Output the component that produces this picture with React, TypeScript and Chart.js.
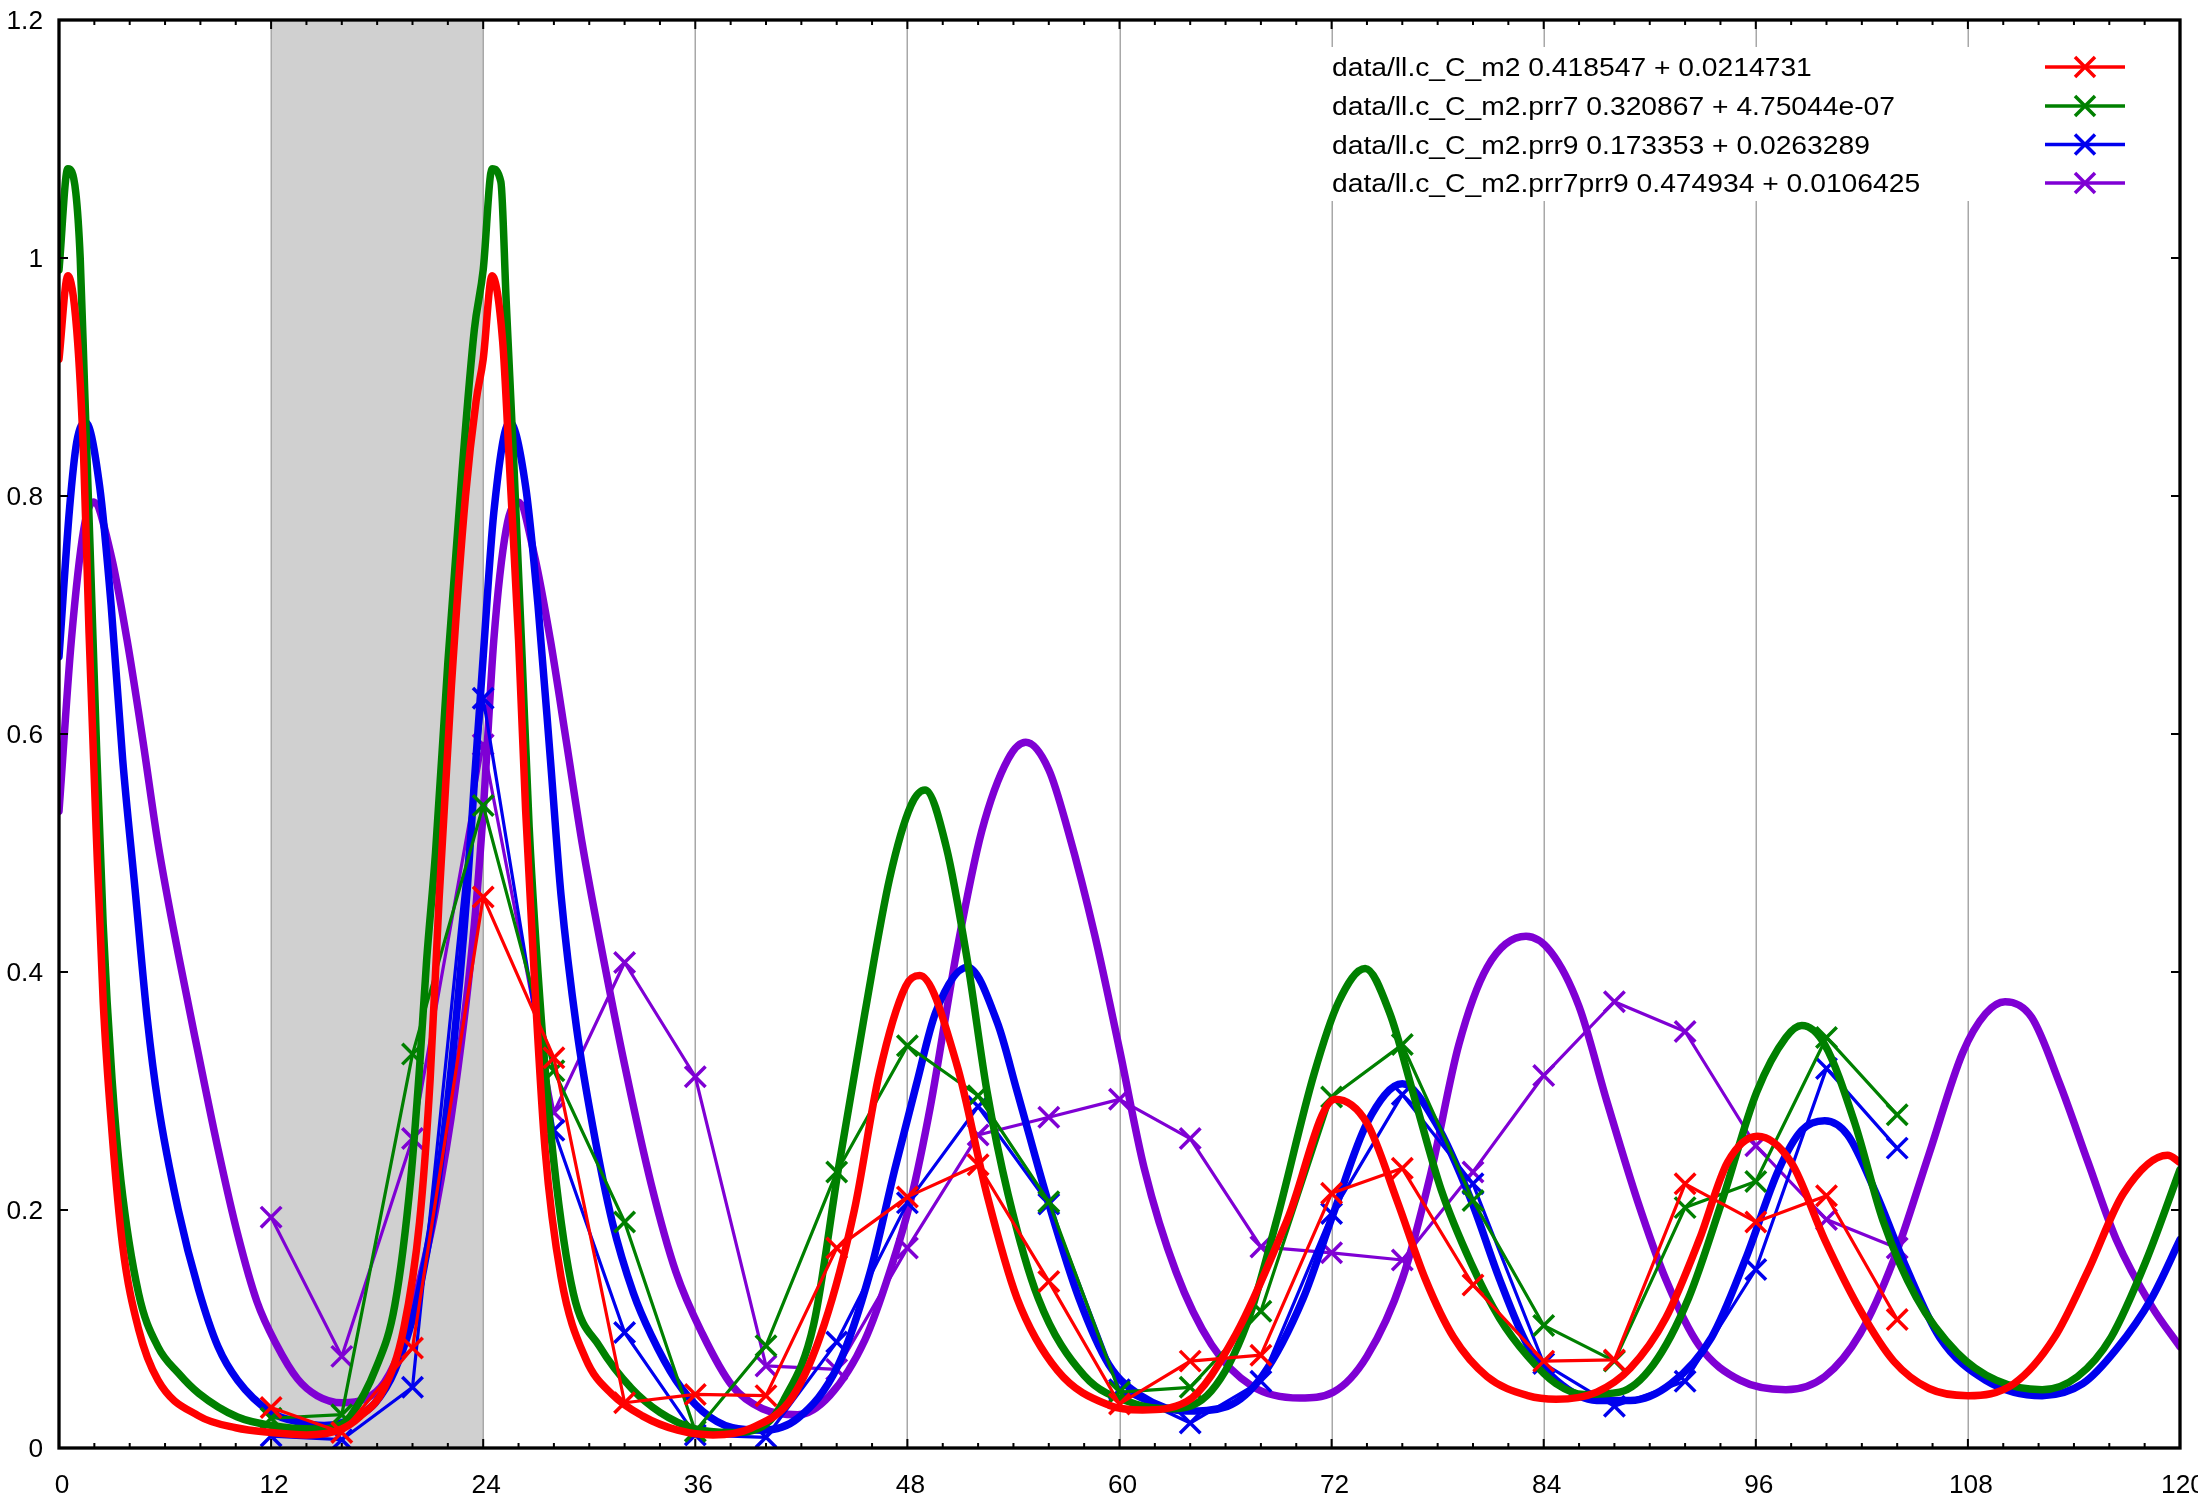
import React, { useEffect, useRef } from 'react';
import { Chart, registerables } from 'chart.js';

Chart.register(...registerables);

// ---------------- data ----------------
const sampleHours = [12, 16, 20, 24, 28, 32, 36, 40, 44, 48, 52, 56, 60, 64, 68, 72, 76, 80, 84, 88, 92, 96, 100, 104];
const m2Data = [0.034, 0.013, 0.084, 0.463, 0.328, 0.038, 0.045, 0.044, 0.168, 0.211, 0.238, 0.140, 0.037, 0.073, 0.078, 0.214, 0.235, 0.137, 0.073, 0.074, 0.222, 0.190, 0.212, 0.108];
const prr7Data = [0.025, 0.028, 0.331, 0.540, 0.317, 0.190, 0.014, 0.086, 0.232, 0.338, 0.296, 0.207, 0.047, 0.051, 0.115, 0.295, 0.339, 0.208, 0.103, 0.073, 0.202, 0.224, 0.345, 0.280];
const prr9Data = [0.010, 0.007, 0.051, 0.630, 0.267, 0.097, 0.011, 0.009, 0.089, 0.206, 0.287, 0.205, 0.049, 0.021, 0.056, 0.197, 0.297, 0.222, 0.071, 0.035, 0.056, 0.150, 0.319, 0.252];
const prr7prr9Data = [0.194, 0.077, 0.260, 0.591, 0.282, 0.408, 0.312, 0.069, 0.066, 0.168, 0.263, 0.278, 0.293, 0.260, 0.169, 0.164, 0.158, 0.232, 0.313, 0.375, 0.350, 0.254, 0.192, 0.168];

const m2FitHours = [0, 0.5, 1.0, 1.4, 1.7, 2.1, 2.5, 3.0, 3.6, 4.5, 5.6, 7.9, 10, 12, 14, 16, 17, 18.4, 19.5, 20.4, 21, 21.5, 22.2, 23, 23.6, 24, 24.5, 25.1, 25.5, 26, 26.4, 26.9, 27.5, 28.4, 29.8, 31.3, 33, 35, 37, 39.2, 41.5, 43.3, 45, 46.4, 47.9, 48.7, 50.8, 52.5, 54.2, 56.5, 59.4, 61.3, 63.8, 66.6, 69.5, 72.2, 74, 75.7, 77.3, 78.9, 80.8, 83.1, 84.7, 87, 88.9, 90.9, 92.8, 94.4, 96.1, 98, 99.9, 101.9, 103.8, 105.8, 108, 110.6, 112.9, 114.8, 116.8, 119.3, 120];
const m2FitValues = [0.915, 0.985, 0.94, 0.83, 0.685, 0.52, 0.375, 0.265, 0.17, 0.1, 0.057, 0.027, 0.017, 0.013, 0.011, 0.016, 0.026, 0.05, 0.1, 0.19, 0.31, 0.46, 0.64, 0.8, 0.88, 0.915, 0.985, 0.93, 0.822, 0.679, 0.536, 0.394, 0.251, 0.144, 0.075, 0.045, 0.027, 0.015, 0.011, 0.017, 0.043, 0.104, 0.2, 0.314, 0.388, 0.397, 0.322, 0.213, 0.126, 0.065, 0.036, 0.032, 0.039, 0.096, 0.192, 0.293, 0.273, 0.208, 0.142, 0.093, 0.06, 0.044, 0.041, 0.047, 0.067, 0.109, 0.175, 0.24, 0.262, 0.24, 0.175, 0.116, 0.073, 0.05, 0.044, 0.054, 0.093, 0.149, 0.214, 0.246, 0.24];

const prr7FitHours = [0, 0.5, 0.95, 1.2, 1.45, 1.75, 2.1, 2.5, 3.0, 3.5, 4.5, 5.6, 6.75, 7.9, 10.1, 12, 14.5, 16, 16.5, 17.9, 19, 19.9, 20.4, 20.8, 21.3, 22, 22.8, 23.5, 24, 24.5, 25, 25.3, 25.75, 26.2, 26.6, 27.3, 28, 29.1, 30.6, 32.4, 34, 36, 38, 40, 41, 42.7, 44.1, 45.6, 47, 48.2, 49, 50.2, 51.4, 52.5, 53.7, 55.4, 58, 60.9, 63, 65.2, 67.2, 68.9, 71, 72.4, 73.9, 75.3, 76.6, 78.2, 79.9, 81.5, 83.1, 84.7, 86.3, 88.3, 90.2, 92.2, 94.1, 96.05, 97.7, 98.6, 99.9, 101.6, 103.2, 105.1, 107.4, 109.6, 112.2, 114.2, 116.1, 118.1, 120];
const prr7FitValues = [0.99, 1.075, 1.055, 1.0, 0.89, 0.76, 0.6, 0.44, 0.31, 0.225, 0.13, 0.085, 0.063, 0.046, 0.026, 0.019, 0.016, 0.02, 0.027, 0.066, 0.12, 0.226, 0.32, 0.41, 0.5, 0.66, 0.82, 0.94, 0.99, 1.075, 1.064, 0.964, 0.822, 0.665, 0.522, 0.358, 0.24, 0.13, 0.085, 0.05, 0.03, 0.016, 0.013, 0.02, 0.04, 0.104, 0.235, 0.366, 0.479, 0.54, 0.553, 0.505, 0.409, 0.3, 0.213, 0.126, 0.061, 0.037, 0.033, 0.048, 0.104, 0.192, 0.314, 0.375, 0.403, 0.365, 0.299, 0.217, 0.155, 0.109, 0.077, 0.054, 0.045, 0.047, 0.07, 0.126, 0.208, 0.299, 0.345, 0.355, 0.339, 0.273, 0.191, 0.126, 0.08, 0.057, 0.049, 0.06, 0.093, 0.158, 0.234];

const prr9FitHours = [0, 0.6, 1.0, 1.5, 2.3, 2.95, 3.6, 4.3, 5.0, 5.6, 6.75, 7.9, 9.0, 10.1, 12, 13.5, 15, 16.8, 17.9, 19, 20.2, 21.3, 22.2, 23.1, 23.5, 24, 24.6, 25.5, 26.4, 27.1, 27.8, 28.4, 29.3, 30.2, 31.3, 32.5, 33.5, 34.9, 36.4, 38.1, 39.8, 41.8, 44.1, 45.9, 47.3, 48.5, 49.6, 51.4, 53.1, 54.2, 56, 57.7, 59.4, 61.2, 63.8, 66.1, 68.1, 70.4, 72.1, 74, 76, 77.9, 79.9, 81.5, 83.1, 84.7, 87, 88.9, 91.2, 93.5, 95.4, 97.3, 98.6, 99.9, 101.2, 102.8, 104.5, 106.4, 109, 112.2, 114.5, 116.4, 118.4, 120];
const prr9FitValues = [0.665, 0.79, 0.845, 0.862, 0.808, 0.708, 0.579, 0.47, 0.36, 0.29, 0.2, 0.133, 0.085, 0.057, 0.03, 0.022, 0.019, 0.026, 0.038, 0.065, 0.12, 0.21, 0.32, 0.47, 0.56, 0.665, 0.786, 0.862, 0.808, 0.708, 0.579, 0.465, 0.351, 0.27, 0.19, 0.13, 0.095, 0.057, 0.031, 0.017, 0.015, 0.025, 0.07, 0.148, 0.235, 0.305, 0.366, 0.404, 0.357, 0.3, 0.205, 0.126, 0.07, 0.044, 0.031, 0.035, 0.061, 0.126, 0.197, 0.273, 0.306, 0.273, 0.208, 0.142, 0.086, 0.057, 0.04, 0.04, 0.054, 0.093, 0.158, 0.234, 0.267, 0.275, 0.263, 0.214, 0.152, 0.093, 0.057, 0.044, 0.054, 0.083, 0.126, 0.175];

const prr7prr9FitHours = [0, 0.7, 1.4, 1.95, 2.95, 3.85, 4.75, 5.6, 6.75, 7.9, 9.0, 10.1, 11.2, 12.3, 13.5, 14.6, 16, 17.3, 18.4, 19.5, 20.4, 21.3, 22.4, 23.5, 24, 24.6, 25.3, 26, 26.9, 27.8, 28.7, 29.6, 30.6, 32, 33.5, 34.9, 36.4, 38.1, 39.8, 41.8, 43.6, 45.6, 47, 48.2, 49.3, 50.8, 52.2, 53.7, 54.7, 56, 57.1, 58.6, 60, 61.4, 63.2, 65.2, 67.5, 70.2, 72.1, 74, 76, 77.6, 79.2, 80.8, 83, 84.4, 86, 87.6, 89.3, 90.9, 92.8, 95.1, 97.7, 99.9, 101.9, 103.8, 105.8, 107.7, 109, 110.1, 111.6, 113.2, 114.8, 116.4, 118.4, 120];
const prr7prr9FitValues = [0.535, 0.679, 0.772, 0.795, 0.75, 0.679, 0.594, 0.508, 0.415, 0.33, 0.251, 0.18, 0.123, 0.087, 0.058, 0.044, 0.038, 0.041, 0.055, 0.09, 0.14, 0.2, 0.3, 0.44, 0.535, 0.679, 0.772, 0.795, 0.75, 0.679, 0.594, 0.508, 0.427, 0.322, 0.222, 0.148, 0.096, 0.052, 0.033, 0.028, 0.044, 0.091, 0.148, 0.209, 0.287, 0.418, 0.518, 0.579, 0.593, 0.57, 0.518, 0.431, 0.335, 0.235, 0.148, 0.087, 0.052, 0.042, 0.047, 0.077, 0.142, 0.23, 0.339, 0.404, 0.43, 0.417, 0.371, 0.29, 0.208, 0.142, 0.086, 0.057, 0.049, 0.06, 0.096, 0.158, 0.247, 0.332, 0.365, 0.375, 0.362, 0.306, 0.24, 0.175, 0.119, 0.085];

const seriesLabels = [
  'data/ll.c_C_m2 0.418547 + 0.0214731',
  'data/ll.c_C_m2.prr7 0.320867 + 4.75044e-07',
  'data/ll.c_C_m2.prr9 0.173353 + 0.0263289',
  'data/ll.c_C_m2.prr7prr9 0.474934 + 0.0106425',
];
const seriesColors = ['#ff0000', '#008000', '#0000ee', '#7f00d4'];

const xTickValues = [0, 12, 24, 36, 48, 60, 72, 84, 96, 108, 120];
const yTickValues = [0, 0.2, 0.4, 0.6, 0.8, 1.0, 1.2];
const yTickLabels = ['0', '0.2', '0.4', '0.6', '0.8', '1', '1.2'];
const gridHours = [12, 24, 36, 48, 60, 72, 84, 96, 108];
const shadedBand = [12, 24];
const minorStep = 2;

// ---------------- helpers ----------------
const toPoints = (xs: number[], ys: number[]) => xs.map((x, i) => ({ x, y: ys[i] }));

const FONT = '"Liberation Sans", Arial, Helvetica, sans-serif';

function drawStretched(ctx: CanvasRenderingContext2D, text: string, x: number, y: number, align: CanvasTextAlign, sx: number) {
  ctx.save();
  ctx.translate(x, y);
  ctx.scale(sx, 1);
  ctx.textAlign = align;
  ctx.textBaseline = 'alphabetic';
  ctx.fillText(text, 0, 0);
  ctx.restore();
}

const gnuplotDecor = {
  id: 'gnuplotDecor',
  beforeDatasetsDraw(chart: any) {
    const { ctx, chartArea: a, scales } = chart;
    const xs = scales.x;
    ctx.save();
    const b0 = xs.getPixelForValue(shadedBand[0]);
    const b1 = xs.getPixelForValue(shadedBand[1]);
    ctx.fillStyle = '#d0d0d0';
    ctx.fillRect(b0, a.top, b1 - b0, a.bottom - a.top);
    ctx.strokeStyle = '#a8a8a8';
    ctx.lineWidth = 1.5;
    for (const h of gridHours) {
      const px = Math.round(xs.getPixelForValue(h)) + 0.25;
      ctx.beginPath();
      ctx.moveTo(px, a.top);
      ctx.lineTo(px, a.bottom);
      ctx.stroke();
    }
    // opaque key background
    ctx.fillStyle = '#ffffff';
    ctx.fillRect(1318, 47, 830, 154);
    ctx.restore();
  },
  afterDatasetsDraw(chart: any) {
    const { ctx, chartArea: a, scales } = chart;
    const xs = scales.x;
    const ys = scales.y;
    ctx.save();
    ctx.strokeStyle = '#000';
    ctx.lineWidth = 2;
    ctx.lineCap = 'butt';
    // x ticks (top & bottom, inward)
    for (let h = xs.min; h <= xs.max; h += minorStep) {
      const px = xs.getPixelForValue(h);
      const len = h % 12 === 0 ? 9 : 5;
      ctx.beginPath();
      ctx.moveTo(px, a.bottom);
      ctx.lineTo(px, a.bottom - len);
      ctx.moveTo(px, a.top);
      ctx.lineTo(px, a.top + len);
      ctx.stroke();
    }
    // y ticks (left & right, inward)
    for (const v of yTickValues) {
      const py = ys.getPixelForValue(v);
      ctx.beginPath();
      ctx.moveTo(a.left, py);
      ctx.lineTo(a.left + 9, py);
      ctx.moveTo(a.right, py);
      ctx.lineTo(a.right - 9, py);
      ctx.stroke();
    }
    // border
    ctx.lineWidth = 3.3;
    ctx.strokeRect(a.left, a.top, a.right - a.left, a.bottom - a.top);

    // tick labels
    ctx.fillStyle = '#000';
    ctx.font = `25px ${FONT}`;
    for (const v of xTickValues) {
      const px = xs.getPixelForValue(v);
      drawStretched(ctx, String(v), px + 3, a.bottom + 45, 'center', 1.05);
    }
    yTickValues.forEach((v, i) => {
      const py = ys.getPixelForValue(v);
      drawStretched(ctx, yTickLabels[i], a.left - 16, py + 9, 'right', 1.05);
    });

    // key
    const rowY = [67, 106, 144.5, 183];
    seriesLabels.forEach((label, i) => {
      const y = rowY[i];
      ctx.fillStyle = '#000';
      ctx.font = `25px ${FONT}`;
      drawStretched(ctx, label, 1332, y + 9, 'left', 1.13);
      ctx.strokeStyle = seriesColors[i];
      ctx.lineWidth = 3.3;
      ctx.beginPath();
      ctx.moveTo(2045, y);
      ctx.lineTo(2125, y);
      ctx.stroke();
      const cx = 2085;
      const r = 10;
      ctx.lineWidth = 3.5;
      ctx.beginPath();
      ctx.moveTo(cx - r, y - r);
      ctx.lineTo(cx + r, y + r);
      ctx.moveTo(cx - r, y + r);
      ctx.lineTo(cx + r, y - r);
      ctx.stroke();
    });
    ctx.restore();
  },
};

function fitDataset(xs: number[], ys: number[], color: string) {
  return {
    data: toPoints(xs, ys),
    borderColor: color,
    backgroundColor: color,
    borderWidth: 7.5,
    pointRadius: 0,
    pointHoverRadius: 0,
    cubicInterpolationMode: 'monotone' as const,
    borderJoinStyle: 'round' as const,
    borderCapStyle: 'round' as const,
    fill: false,
  };
}

function sampleDataset(ys: number[], color: string) {
  return {
    data: toPoints(sampleHours, ys),
    borderColor: color,
    backgroundColor: color,
    borderWidth: 3.2,
    pointStyle: 'crossRot' as const,
    pointRadius: 14.5,
    pointHoverRadius: 14.5,
    pointBorderWidth: 3.5,
    pointBorderColor: color,
    tension: 0,
    borderJoinStyle: 'round' as const,
    fill: false,
  };
}

export default function App() {
  const canvasRef = useRef<HTMLCanvasElement | null>(null);

  useEffect(() => {
    document.body.style.margin = '0';
    document.body.style.overflow = 'hidden';
    const canvas = canvasRef.current;
    if (!canvas) return;
    const chart = new Chart(canvas, {
      type: 'line',
      data: {
        datasets: [
          fitDataset(m2FitHours, m2FitValues, seriesColors[0]),
          sampleDataset(m2Data, seriesColors[0]),
          fitDataset(prr7FitHours, prr7FitValues, seriesColors[1]),
          sampleDataset(prr7Data, seriesColors[1]),
          fitDataset(prr9FitHours, prr9FitValues, seriesColors[2]),
          sampleDataset(prr9Data, seriesColors[2]),
          fitDataset(prr7prr9FitHours, prr7prr9FitValues, seriesColors[3]),
          sampleDataset(prr7prr9Data, seriesColors[3]),
        ] as any,
      },
      options: {
        responsive: false,
        maintainAspectRatio: false,
        animation: false,
        devicePixelRatio: 1,
        layout: { padding: { left: 59, right: 16, top: 20, bottom: 46 } },
        scales: {
          x: { type: 'linear', min: 0, max: 120, display: false },
          y: { type: 'linear', min: 0, max: 1.2, display: false },
        },
        plugins: {
          legend: { display: false },
          tooltip: { enabled: false },
        },
        events: [],
      },
      plugins: [gnuplotDecor],
    });
    return () => chart.destroy();
  }, []);

  return (
    <div style={{ width: 2198, height: 1494, background: '#fff' }}>
      <canvas ref={canvasRef} width={2198} height={1494} style={{ display: 'block' }} />
    </div>
  );
}
